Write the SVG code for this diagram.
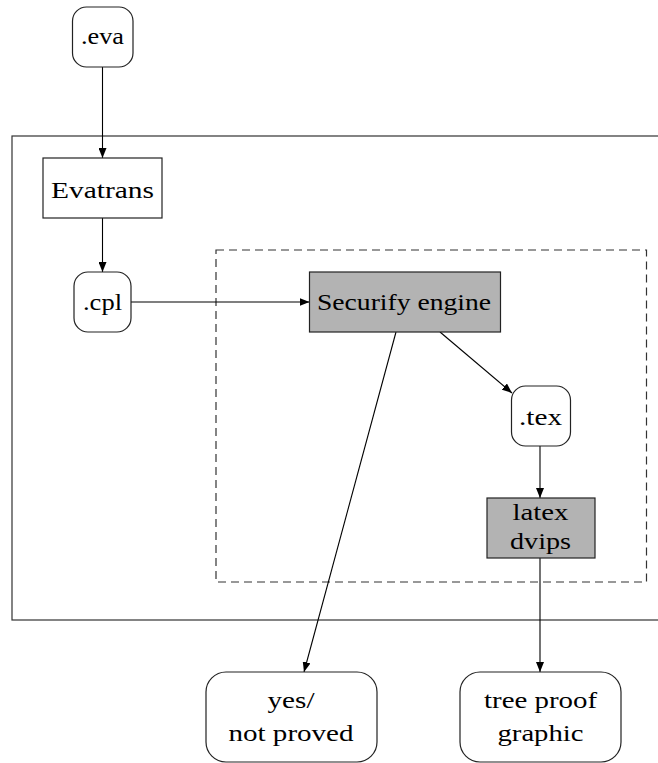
<svg xmlns="http://www.w3.org/2000/svg" width="658" height="763" viewBox="0 0 658 763">
<style>
  .box { fill: #fff; stroke: #222; stroke-width: 1.2; }
  .grey { fill: #b3b3b3; stroke: #222; stroke-width: 1.2; }
  .frame { fill: none; stroke: #333; stroke-width: 1.2; }
  .dash { fill: none; stroke: #333; stroke-width: 1.2; stroke-dasharray: 8 5; }
  .lbl { font-family: "Liberation Serif", "DejaVu Serif", serif; font-size: 24px; fill: #000; text-anchor: middle; }
  .edge { fill: none; stroke: #000; stroke-width: 1.1; marker-end: url(#arr); }
</style>
<defs>
  <marker id="arr" viewBox="0 0 10 8" refX="10" refY="4" markerWidth="10" markerHeight="8" markerUnits="userSpaceOnUse" orient="auto">
    <path d="M0,0 L10,4 L0,8 z" fill="#000"/>
  </marker>
</defs>
<rect class="frame" x="12" y="136" width="700" height="484"/>
<rect class="dash" x="216" y="250" width="430.5" height="332"/>
<g id="edges">
  <line class="edge" x1="102.5" y1="67" x2="102.5" y2="158"/>
  <line class="edge" x1="102.5" y1="218" x2="102.5" y2="272"/>
  <line class="edge" x1="131" y1="302" x2="309.5" y2="302"/>
  <line class="edge" x1="440" y1="332" x2="512" y2="393"/>
  <line class="edge" x1="396" y1="332" x2="304" y2="672"/>
  <line class="edge" x1="540" y1="446" x2="540" y2="498"/>
  <line class="edge" x1="540" y1="558" x2="540" y2="672"/>
</g>
<g id="eva">
  <rect class="box" x="72.5" y="7" width="60.5" height="60" rx="14"/>
  <text class="lbl" x="102.5" y="44" textLength="43" lengthAdjust="spacingAndGlyphs">.eva</text>
</g>
<g id="evatrans">
  <rect class="box" x="43" y="158" width="119" height="60"/>
  <text class="lbl" x="102.5" y="198" textLength="103" lengthAdjust="spacingAndGlyphs">Evatrans</text>
</g>
<g id="cpl">
  <rect class="box" x="74" y="272" width="57" height="60" rx="14"/>
  <text class="lbl" x="102.5" y="310" textLength="39" lengthAdjust="spacingAndGlyphs">.cpl</text>
</g>
<g id="securify">
  <rect class="grey" x="309.5" y="272" width="191" height="60"/>
  <text class="lbl" x="404" y="310" textLength="174" lengthAdjust="spacingAndGlyphs">Securify engine</text>
</g>
<g id="tex">
  <rect class="box" x="511.5" y="386" width="59" height="60" rx="14"/>
  <text class="lbl" x="540.5" y="425" textLength="43" lengthAdjust="spacingAndGlyphs">.tex</text>
</g>
<g id="latex">
  <rect class="grey" x="487" y="498" width="108" height="60"/>
  <text class="lbl" x="540.5" y="520" textLength="56" lengthAdjust="spacingAndGlyphs">latex</text>
  <text class="lbl" x="540.5" y="549" textLength="61" lengthAdjust="spacingAndGlyphs">dvips</text>
</g>
<g id="yes">
  <rect class="box" x="206" y="672" width="171" height="90" rx="20"/>
  <text class="lbl" x="291" y="708" textLength="47" lengthAdjust="spacingAndGlyphs">yes/</text>
  <text class="lbl" x="291" y="741" textLength="125" lengthAdjust="spacingAndGlyphs">not proved</text>
</g>
<g id="tree">
  <rect class="box" x="460" y="672" width="161" height="90" rx="20"/>
  <text class="lbl" x="540.5" y="708" textLength="113" lengthAdjust="spacingAndGlyphs">tree proof</text>
  <text class="lbl" x="540.5" y="741" textLength="86" lengthAdjust="spacingAndGlyphs">graphic</text>
</g>
</svg>
